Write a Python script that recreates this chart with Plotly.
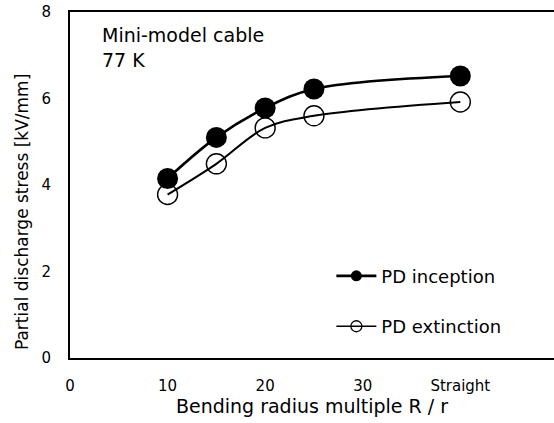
import plotly.graph_objects as go

# Data
bend_ratio = [10, 15, 20, 25, 40]          # 40 = "Straight"
pd_inception = [4.15, 5.10, 5.78, 6.22, 6.52]
pd_extinction = [3.78, 4.49, 5.32, 5.60, 5.92]
x_tick_vals = [0, 10, 20, 30, 40]
x_tick_text = ["0", "10", "20", "30", "Straight"]
y_tick_vals = [0, 2, 4, 6, 8]

FONT = "DejaVu Sans"

fig = go.Figure()

fig.add_trace(go.Scatter(
    x=bend_ratio, y=pd_extinction, mode="lines+markers",
    line=dict(color="black", width=2, shape="spline", smoothing=1),
    marker=dict(symbol="circle-open", size=20, color="black", line=dict(width=1.4)),
    showlegend=False,
))
fig.add_trace(go.Scatter(
    x=bend_ratio, y=pd_inception, mode="lines+markers",
    line=dict(color="black", width=2.6, shape="spline", smoothing=1),
    marker=dict(symbol="circle", size=21, color="black"),
    showlegend=False,
))

# legend entries
fig.add_trace(go.Scatter(
    x=[None], y=[None], mode="lines+markers", name="PD inception",
    legendgroup="a",
    line=dict(color="black", width=2.6),
    marker=dict(symbol="circle", size=11, color="black"),
))
fig.add_trace(go.Scatter(
    x=[None], y=[None], mode="lines+markers", name="PD extinction",
    legendgroup="b",
    line=dict(color="black", width=1.6),
    marker=dict(symbol="circle-open", size=11, color="black", line=dict(width=1.3)),
))

fig.add_annotation(
    text="Mini-model cable<br>77 K", xref="paper", yref="paper",
    x=0.062, y=0.97, xanchor="left", yanchor="top", showarrow=False,
    align="left", font=dict(family=FONT, size=19, color="black"),
)

# y-axis title (placed to match original offset)
fig.add_annotation(
    text="Partial discharge stress [kV/mm]", xref="paper", yref="paper",
    x=-0.099, y=0.422, xanchor="center", yanchor="middle", textangle=-90,
    showarrow=False, font=dict(family=FONT, size=17, color="black"),
)

fig.update_layout(
    width=554, height=423,
    margin=dict(l=70, r=0, t=12, b=65),
    paper_bgcolor="white", plot_bgcolor="white",
    font=dict(family=FONT, color="black"),
    legend=dict(
        x=0.54, y=0.29, xanchor="left", yanchor="top",
        font=dict(family=FONT, size=18, color="black"),
        tracegroupgap=24, itemwidth=40, bgcolor="rgba(0,0,0,0)",
    ),
)

fig.update_xaxes(
    range=[0, 49.6], showgrid=False, zeroline=False,
    showline=True, linecolor="black", linewidth=2, mirror=True,
    ticks="", tickvals=x_tick_vals, ticktext=x_tick_text,
    tickfont=dict(family=FONT, size=15, color="black"),
    ticklabelstandoff=13,
    title=dict(text="Bending radius multiple R / r",
               font=dict(family=FONT, size=19, color="black"), standoff=4),
)
fig.update_yaxes(
    range=[0, 8], showgrid=False, zeroline=False,
    showline=True, linecolor="black", linewidth=2,
    ticks="", tickvals=y_tick_vals,
    tickfont=dict(family=FONT, size=15, color="black"),
    ticklabelstandoff=14,
)

fig.write_html("out.html")
